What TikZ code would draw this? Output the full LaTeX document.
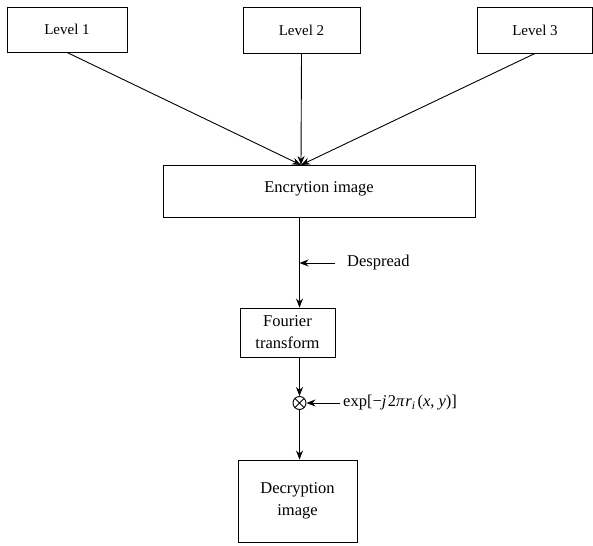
\documentclass[tikz,border=0pt]{standalone}
\usepackage{fontspec}
\setmainfont{Liberation Serif}
\usetikzlibrary{arrows.meta}
\begin{document}
\begin{tikzpicture}[x=1pt,y=-1pt,
  box/.style={draw,line width=0.9pt,inner sep=0pt,align=center,font=\fontsize{16.5}{22}\selectfont},
  lvl/.style={box,font=\fontsize{15}{18}\selectfont},
  arr/.style={line width=0.9pt,-{Stealth[length=9pt,width=7pt]}},
  lab/.style={anchor=west,inner sep=0pt,font=\fontsize{16.5}{20}\selectfont}]
\useasboundingbox (0,0) rectangle (593,545);
\node[lvl,minimum width=120pt,minimum height=45pt] (l1) at (67,29.5) {Level 1};
\node[lvl,minimum width=117pt,minimum height=46pt] (l2) at (301.5,30) {Level 2};
\node[lvl,minimum width=115pt,minimum height=46pt] (l3) at (535,30) {Level 3};
\node[box,minimum width=312pt,minimum height=52pt] (enc) at (319,191) {\raisebox{8pt}{Encrytion image}};
\node[box,minimum width=95pt,minimum height=49pt] (ft) at (287.5,332.5) {Fourier\\transform};
\node[draw,circle,line width=0.9pt,minimum size=13pt,inner sep=0pt,
  path picture={\draw[line width=0.8pt] (path picture bounding box.north west) -- (path picture bounding box.south east)
   (path picture bounding box.north east) -- (path picture bounding box.south west);}] (mul) at (299.5,403) {};
\node[box,minimum width=119pt,minimum height=82pt] (dec) at (297.5,501) {Decryption\\image};
\coordinate (hit) at (301,165);
\draw[arr] (l1.south) -- (hit);
\draw[arr] (l2.south) -- (hit);
\draw[arr] (l3.south) -- (hit);
\draw[arr] (mul |- enc.south) -- (mul |- ft.north);
\node[lab] (desp) at (347,263) {Despread};
\coordinate (dsrc) at (335,263);
\draw[arr] (dsrc) -- (mul |- dsrc);
\draw[arr] (mul |- ft.south) -- (mul.north);
\node[lab] (ex) at (343,403) {exp[−{\itshape j}\kern1.5pt2{\itshape π\kern1pt r}\textsubscript{\itshape i}\kern2pt({\itshape x}, {\itshape y})]};
\coordinate (esrc) at (340,403);
\draw[arr] (esrc) -- (mul.east);
\draw[arr] (mul.south) -- (mul.south |- dec.north);
\end{tikzpicture}
\end{document}
